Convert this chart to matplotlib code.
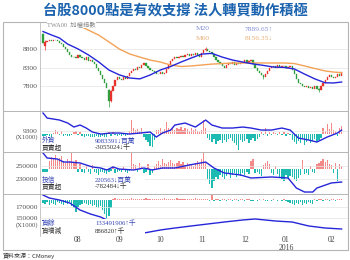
import matplotlib
matplotlib.use('Agg')
import matplotlib.pyplot as plt
from matplotlib.lines import Line2D
from matplotlib.patches import Rectangle
from matplotlib.transforms import blended_transform_factory
import numpy as np

# ---- data (trading day index 0..145, Jul 2015 - Feb 2016) ----
opens = [9210, 8880, 9000, 9030, 9050, 9020, 9060, 9040, 9020, 8980,
         8930, 8870, 8800, 8730, 8640, 8580, 8600, 8570, 8650, 8590,
         8560, 8520, 8580, 8480, 8520, 8450, 8400, 8300, 8200, 8100,
         8000, 7900, 7700, 7400, 7680, 7820, 7960, 8040, 8000, 7960,
         8050, 7990, 8080, 8160, 8200, 8280, 8250, 8320, 8300, 8380,
         8420, 8360, 8300, 8240, 8200, 8180, 8140, 8120, 8180, 8120,
         8160, 8260, 8380, 8480, 8550, 8580, 8560, 8600, 8620, 8590,
         8640, 8660, 8620, 8680, 8650, 8700, 8640, 8600, 8700, 8780,
         8820, 8760, 8720, 8660, 8580, 8500, 8460, 8400, 8340, 8300,
         8380, 8420, 8400, 8460, 8380, 8420, 8400, 8440, 8460, 8500,
         8440, 8480, 8520, 8400, 8300, 8200, 8150, 8100, 8040, 8120,
         8220, 8300, 8320, 8340, 8300, 8380, 8320, 8340, 8360, 8300,
         8320, 8340, 8250, 8120, 8000, 7900, 7860, 7820, 7780, 7800,
         7760, 7780, 7720, 7800, 7740, 7700, 7800, 7880, 7960, 8040,
         8100, 8060, 8020, 8060, 8120, 8080]
closes = [8980, 9000, 9030, 9050, 9020, 9060, 9040, 9020, 8980, 8930,
          8870, 8800, 8730, 8640, 8580, 8600, 8570, 8650, 8590, 8560,
          8520, 8580, 8480, 8520, 8450, 8400, 8300, 8200, 8100, 8000,
          7900, 7760, 7410, 7680, 7820, 7960, 8040, 8000, 7960, 8050,
          7990, 8080, 8160, 8200, 8280, 8250, 8320, 8300, 8380, 8420,
          8360, 8300, 8240, 8200, 8180, 8140, 8120, 8180, 8120, 8160,
          8260, 8380, 8480, 8550, 8580, 8560, 8600, 8620, 8590, 8640,
          8660, 8620, 8680, 8650, 8700, 8640, 8600, 8700, 8780, 8820,
          8760, 8720, 8660, 8580, 8500, 8460, 8400, 8340, 8300, 8380,
          8420, 8400, 8460, 8380, 8420, 8400, 8440, 8460, 8500, 8440,
          8480, 8520, 8400, 8300, 8200, 8150, 8100, 8040, 8120, 8220,
          8300, 8320, 8340, 8300, 8380, 8320, 8340, 8360, 8300, 8320,
          8340, 8250, 8120, 8000, 7900, 7860, 7820, 7780, 7800, 7760,
          7780, 7720, 7800, 7740, 7700, 7800, 7880, 7960, 8040, 8100,
          8060, 8020, 8060, 8120, 8080, 8190]
wick_idx = [0, 1, 32, 33, 79, 107, 134]
wick_high = [9230, 9040, 7720, 7700, 8860, 8110, 7760]
wick_low = [8960, 8790, 7240, 7380, 8760, 8000, 7650]

ma20_idx = [0, 4, 8, 12, 17, 22, 27, 32, 37, 42, 47, 52, 57, 62, 67, 72,
            77, 82, 87, 92, 97, 102, 107, 112, 117, 122, 127, 132, 137, 141, 145]
ma20_val = [9280, 9190, 9105, 8940, 8810, 8650, 8460, 8240, 8110, 8025, 8000,
            8105, 8240, 8335, 8455, 8565, 8670, 8690, 8590, 8510, 8455, 8405,
            8365, 8320, 8310, 8270, 8130, 8000, 7895, 7890, 7915]
ma60_idx = [0, 6, 12, 17, 22, 27, 32, 37, 42, 47, 52, 57, 62, 67, 72, 77,
            82, 87, 92, 97, 102, 107, 112, 117, 122, 127, 132, 137, 141, 145]
ma60_val = [9800, 9700, 9560, 9455, 9320, 9185, 9000, 8810, 8675, 8590, 8510,
            8455, 8375, 8335, 8350, 8375, 8400, 8415, 8430, 8430, 8430, 8430,
            8430, 8430, 8415, 8350, 8280, 8215, 8185, 8170]

# foreign investors: holdings line and daily net buy/sell bars
fi_idx = [0, 2, 5, 8, 12, 15, 18, 21, 24, 28, 33, 37, 42, 47, 52, 55, 58, 62,
          64, 69, 74, 79, 82, 87, 92, 97, 101, 106, 111, 116, 120, 124, 129,
          133, 138, 143, 145]
fi_val = [10360, 10060, 10000, 9940, 9760, 9520, 9640, 9460, 9220, 9100, 9160,
          9160, 9100, 9160, 9220, 8920, 9160, 9340, 9640, 9760, 9520, 9940,
          9640, 9460, 9460, 9520, 9460, 9340, 9340, 9460, 9340, 8860, 8740,
          8620, 8920, 9160, 9340]
fi_net = [-20, -25, -15, -20, -30, 10, 35, 20, -10, 25,
          -20, -15, -25, -20, -10, 20, 30, -10, 15,
          -20, -30, -25, -20, -35, -30, -40, -25, -30, -35,
          -20, -30, -40, 15, -25, 20,
          -15, -20, -10, -25, -15, -20, -10, 30, 135,
          60, 40, 50, 30, 60, -40, -60, -80,
          -120, -130, -60, 40, 40, 60, 30, 50, 120,
          60, 50, 70, 40, 60, 50, 70, 40, 60, 50, 30, 60, 40, 50,
          30, 20, 40, 135, 60,
          -40, -60, -80, -50, -100, -70, -60, -90,
          -60, -80, -50, -40, -70, -90, -110, -165,
          -60, -80, -70, -50, -90, -60, -40, -70, -50, -30,
          20, -10, 60, -20, 15, -15, 20, 10, -10, 20,
          -10, 15, -20, 10, -15,
          -60, -80, -100, -70, -90, -50, -110, -80, -60, -90, -70, -50, -80, -60, -40,
          60, 30, 100, 50, 110, 40, 30, -20, 60, 80]

# investment trusts
it_idx = [0, 2, 7, 10, 13, 18, 21, 24, 28, 31, 34, 37, 44, 49, 53, 58, 64, 71,
          79, 83, 88, 96, 101, 111, 119, 123, 127, 131, 133, 140, 145]
it_val = [268700, 261300, 259800, 255400, 255400, 254000, 251000, 248100,
          246600, 243700, 248100, 245100, 243700, 246600, 243700, 246600,
          246600, 251000, 255400, 246600, 239300, 236300, 231900, 233400,
          231900, 217200, 211300, 211300, 217200, 224600, 226000]
it_net = [-3, -3, -3, 8, 12, 10, 14, 9, 11, 13, 8, 6, 10,
          8, 16, 6, 9, -3, 5,
          -3, -4, 3, -3, -5, 4, -3, -4, -6, -3,
          -3, -4, -5, -3, -2, 3, -4, -3, -2, -3, 2, -3, -4, -2, 16,
          5, 4, -3, 6, 3, -4, -3, 5, -6, -4, 3, 5,
          8, 4, 10, 6, 5, 7, 9, 6, 5,
          6, 8, 5, 7, 4, 6, 5, 4, 3, 6,
          8, 5, 10, 16, 6,
          -10, -15, -19, -12, -8, -10,
          -6, -8, -10, -7, -5, -9, -6, -4, -8, -5, -7, -4, -6, -3, -5,
          8, 10, -4, -3,
          -5, -7, 4, 6, 8, 5, -4, -6, 3, -5, -8, -10, -12, -6, -9, -7,
          -8, -10, -12, -9, -6, 9,
          -5, -4, -6, 3, -3, -4, 5,
          6, 8, 10, 7, 9, 5, 4,
          -4, 6, -12, 5, 3]

# margin balance and daily change
mg_idx = [0, 3, 8, 13, 18, 23, 28, 33, 37, 42, 49, 57, 64, 72, 80, 88, 97,
          103, 113, 121, 129, 137, 145]
mg_val = [191800, 186400, 182700, 177300, 164500, 157300, 151800, 142700,
          133600, 126400, 122700, 128200, 131800, 135500, 139100, 142700,
          146400, 148200, 144500, 142700, 135500, 131800, 130000]
mg_chg = [-15, -20, -10, -25, -15, -20, -25, -10, -15, -20, -25, -15, -20, -10,
          -30, -40, -60, -35, -25, -20,
          -15, -20, -25, -20, -30, -25, -35, -40, -30,
          -50, -70, -100, -80, -40,
          5, 8, 5, 6, 4, 7, 5,
          6, 4, 8, 5, 3, 7, 5, 6, 4, 8, 5, 6, 3, 7, 5, 4, 6, 5, 8, 4,
          5, 7, 4, 6, 8, 5, 4, 6, 7, 5, 3, 6, 4, 8, 5, 6, 4, 4, 6, 5,
          -4, 25, -3, 6, 4, -5, 3, 5, -4, 6, 4, -3, 5, 4, -4, 3, 5, -3, 4, 6, -5,
          -3, 2, -4, 3, -2, 4, -3, -5, 2, -4, 3, -2, -4, 2, -3, 4, -5,
          -10, -15, -20, -25, -15, -20, -10, -25, -15, -20, -10, -15, -20,
          4, -5, 3, 5, -3, 4, 6, -4, 5, 3, -5, 4, 6, 5]

month_idx = [17, 37, 57, 77, 98, 118, 140]
month_lbl = ['08', '09', '10', '11', '12', '01', '02']

# ---- drawing ----
W, H = 350, 260
CJK = 'Noto Sans CJK TC'
SERIF = ['Liberation Serif', CJK, 'DejaVu Sans']
RED, GREEN = '#e8322c', '#2f9e3c'
BAR_UP, BAR_DN = '#f4898a', '#1dbab2'
BLUE, ORANGE = '#2626d9', '#f3a256'
GRID = '#e4e4e4'
TICK = '#555555'


def rect(x0, y0, x1, y1):
    return [x0 / W, 1 - y1 / H, (x1 - x0) / W, (y1 - y0) / H]


def fx(x):
    return x / W


def fy(y):
    return 1 - y / H


fig = plt.figure(figsize=(3.5, 2.6), dpi=100)
fig.patch.set_facecolor('white')
xlim = (-1.46, 148.1)


def style(ax):
    ax.set_xlim(*xlim)
    for s in ['top', 'right', 'bottom']:
        ax.spines[s].set_visible(False)
    ax.spines['left'].set_color('#bdbdbd')
    ax.spines['left'].set_linewidth(0.6)
    ax.set_xticks([])
    ax.tick_params(axis='y', length=0, pad=1.5, labelsize=5.4, labelcolor=TICK)
    for lab in ax.get_yticklabels():
        lab.set_family(SERIF)
    ax.set_facecolor('none')


# price panel
ax_p = fig.add_axes(rect(40, 22, 348, 111))
idx = np.arange(len(closes))
o = np.array(opens)
c = np.array(closes)
col = np.where(c >= o, RED, GREEN)
wcol = [col[i] for i in wick_idx]
ax_p.vlines(wick_idx, wick_low, wick_high, colors=wcol, linewidth=0.5)
ax_p.bar(idx, np.abs(c - o), bottom=np.minimum(o, c), width=0.62, color=col,
         edgecolor=col, linewidth=0.25)
ax_p.plot(ma60_idx, ma60_val, color=ORANGE, lw=1.0)
ax_p.plot(ma20_idx, ma20_val, color=BLUE, lw=1.0)
ax_p.set_ylim(7132, 9538)
ax_p.set_yticks([7800, 8300, 8800])
ax_p.grid(axis='y', color=GRID, lw=0.5)
ax_p.set_axisbelow(True)
style(ax_p)


def sub_panel(y0, y1, bars, bar_lim, line_idx, line_val, line_lim, ticks):
    axb = fig.add_axes(rect(40, y0, 348, y1))
    bc = [BAR_UP if v >= 0 else BAR_DN for v in bars]
    axb.bar(np.arange(len(bars)), bars, width=0.62, color=bc, linewidth=0)
    axb.set_ylim(*bar_lim)
    axb.set_yticks([])
    style(axb)
    axl = axb.twinx()
    axl.plot(line_idx, line_val, color=BLUE, lw=1.0)
    axl.set_ylim(*line_lim)
    axl.yaxis.tick_left()
    axl.set_yticks(ticks)
    axl.grid(axis='y', color=GRID, lw=0.5)
    style(axl)
    axl.spines['left'].set_visible(False)
    return axb, axl


sub_panel(111, 152, fi_net, (-185, 225), fi_idx, fi_val, (8022, 10482), [9300])
sub_panel(152, 194, it_net, (-24.7, 17.3), it_idx, it_val, (208391, 270131),
          [230000, 250000])
ax_m, ax_ml = sub_panel(194, 236, mg_chg, (-180, 30), mg_idx, mg_val,
                        (117276, 193632), [150000, 170000])

# month labels
tr = blended_transform_factory(ax_m.transData, fig.transFigure)
for m, lbl in zip(month_idx, month_lbl):
    fig.text(m, fy(240), lbl, transform=tr, ha='center', va='center',
             fontsize=5.6, color='#444444', family=SERIF)
fig.text(month_idx[5], fy(247.5), '2016', transform=tr, ha='center',
         va='center', fontsize=5.6, color='#444444', family=SERIF)

# frame and separators
frame_col = '#b5b5b5'
for y in [111, 152, 194]:
    fig.add_artist(Line2D([fx(3), fx(348)], [fy(y), fy(y)], color=frame_col, lw=0.7))
fig.add_artist(Rectangle((fx(3), fy(250)), fx(345), (250 - 22) / H, fill=False,
                         edgecolor=frame_col, lw=0.8))

# white label blocks in the sub panels
for y0, y1 in [(137, 150), (175.5, 189.5), (219, 234)]:
    fig.add_artist(Rectangle((fx(41), fy(y1)), fx(104), (y1 - y0) / H,
                             facecolor='white', edgecolor='none', zorder=2.5))

LBL_BLUE = '#3545b5'
LBL_DARK = '#333333'
fs = 4.9
panel_txt = [
    (140.0, '外資', '9083391↓百萬', LBL_BLUE, LBL_BLUE),
    (146.7, '買賣超', '-3055024↓千', LBL_DARK, LBL_DARK),
    (179.5, '投信', '220563↓百萬', LBL_BLUE, LBL_BLUE),
    (186.2, '買賣超', '-782484↓千', LBL_DARK, LBL_DARK),
    (222.8, '資餘', '133491906↑千', LBL_BLUE, LBL_BLUE),
    (230.5, '資增減', '886820↑千', LBL_DARK, LBL_DARK),
]
for y, name, val, c1, c2 in panel_txt:
    fig.text(fx(42), fy(y), name, ha='left', va='center', fontsize=fs,
             color=c1, family=[CJK], zorder=3)
    fig.text(fx(95), fy(y), val, ha='left', va='center', fontsize=fs,
             color=c2, family=SERIF, zorder=3)

for y in [137.6, 225.4]:
    fig.text(fx(38), fy(y), '(X1000)', ha='right', va='center', fontsize=4.8,
             color=TICK, family=SERIF)

# price panel header labels
fig.text(fx(47), fy(24.5), 'TWA00  加權指數', ha='left', va='center', fontsize=4.6,
         color='#8a8a8a', family=SERIF,
         bbox=dict(facecolor='white', edgecolor='none', pad=0.3))
fig.text(fx(196), fy(29), 'M20', ha='left', va='center', fontsize=5.4,
         color='#8792d8', family=SERIF)
fig.text(fx(245), fy(29), '7889.65↑', ha='left', va='center', fontsize=5.4,
         color='#8792d8', family=SERIF)
fig.text(fx(196), fy(38.5), 'M60', ha='left', va='center', fontsize=5.4,
         color='#eab077', family=SERIF)
fig.text(fx(245), fy(38.5), '8156.35↓', ha='left', va='center', fontsize=5.4,
         color='#eab077', family=SERIF)

# title and source
fig.text(fx(175), fy(11), '台股8000點是有效支撐 法人轉買動作積極', ha='center', va='center',
         fontsize=10.3, fontweight='bold', color='#1b63ae', family=[CJK])
fig.text(fx(3), fy(255.5), '資料來源：CMoney', ha='left', va='center', fontsize=4.3,
         color='#333333', family=[CJK, 'DejaVu Sans'])

fig.savefig('out.png', dpi=100, facecolor='white')
